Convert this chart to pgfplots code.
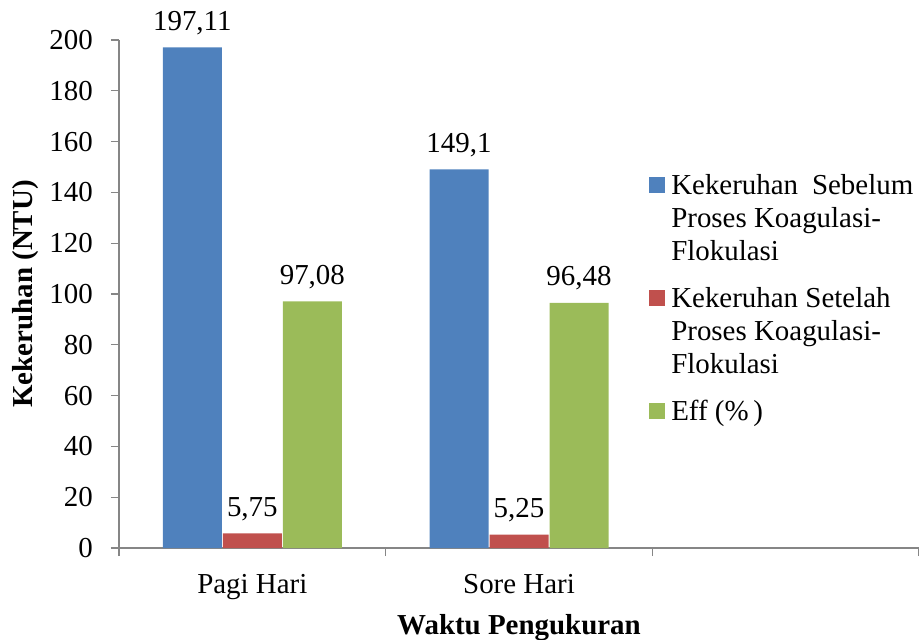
\documentclass[border=0pt]{standalone}
\usepackage{pgfplots}
\pgfplotsset{compat=1.18}
\usepackage{fontspec}
\setmainfont{Liberation Serif}
\definecolor{cblue}{HTML}{4F81BD}
\definecolor{cred}{HTML}{C0504D}
\definecolor{cgreen}{HTML}{9BBB59}
\definecolor{caxis}{HTML}{868686}
\begin{document}
\begin{tikzpicture}[font=\fontsize{21.7}{24.75}\selectfont]
\begin{axis}[
  scale only axis, width=600pt, height=381pt,
  xmin=-0.5, xmax=2.5, ymin=0, ymax=200,
  clip=false,
  axis x line=bottom, axis y line=left,
  axis line style={-, draw=caxis, line width=0.9pt},
  ybar=0.75pt, bar width=44.25pt,
  xtick={0,1}, xticklabels={Pagi Hari, Sore Hari},
  major x tick style={draw=none},
  minor xtick={-0.5,0.5,1.5,2.5},
  ytick={0,20,...,200},
  tick align=outside,
  major tick length=6pt, minor tick length=6pt,
  tick style={draw=caxis, line width=0.9pt},
  /pgf/number format/assume math mode=true,
  yticklabel style={anchor=east, inner sep=0pt, xshift=-13.5pt},
  xticklabel style={anchor=base, inner sep=0pt, yshift=-28pt},
  ylabel={\textbf{Kekeruhan (NTU)}},
  ylabel style={at={(axis description cs:-0.1163,0.5)}, anchor=center},
  xlabel={\textbf{Waktu Pengukuran}},
  xlabel style={at={(axis description cs:0.5,-0.1693)}, anchor=base},
  nodes near coords, point meta=explicit symbolic,
  every node near coord/.append style={anchor=base, yshift=12.75pt, inner sep=0pt, text=black},
  legend style={at={(0.6625,0.736)}, anchor=north west, draw=none, fill=none,
    inner sep=0pt, row sep=19.8pt, column sep=4.5pt,
    cells={anchor=base west}, nodes={inner sep=0pt, text depth=}},
  legend image code/.code={\fill[#1,draw=none] (0pt,1.2pt) rectangle (12pt,13.2pt);},
]
\addplot[fill=cblue, draw=none] coordinates {(0,197.11) [197,11] (1,149.1) [149,1]};
\addplot[fill=cred, draw=none] coordinates {(0,5.75) [5,75] (1,5.25) [5,25]};
\addplot[fill=cgreen, draw=none] coordinates {(0,97.08) [97,08] (1,96.48) [96,48]};
\addlegendentry{\parbox[t]{181.5pt}{Kekeruhan\hfill Sebelum\\Proses Koagulasi-\\Flokulasi}}
\addlegendentry{\parbox[t]{181.5pt}{Kekeruhan Setelah\\Proses Koagulasi-\\Flokulasi}}
\addlegendentry{Eff (\%\,)}
\end{axis}
\pgfresetboundingbox
\path (-89.25pt,-68.25pt) rectangle (600pt,411pt);
\end{tikzpicture}
\end{document}
